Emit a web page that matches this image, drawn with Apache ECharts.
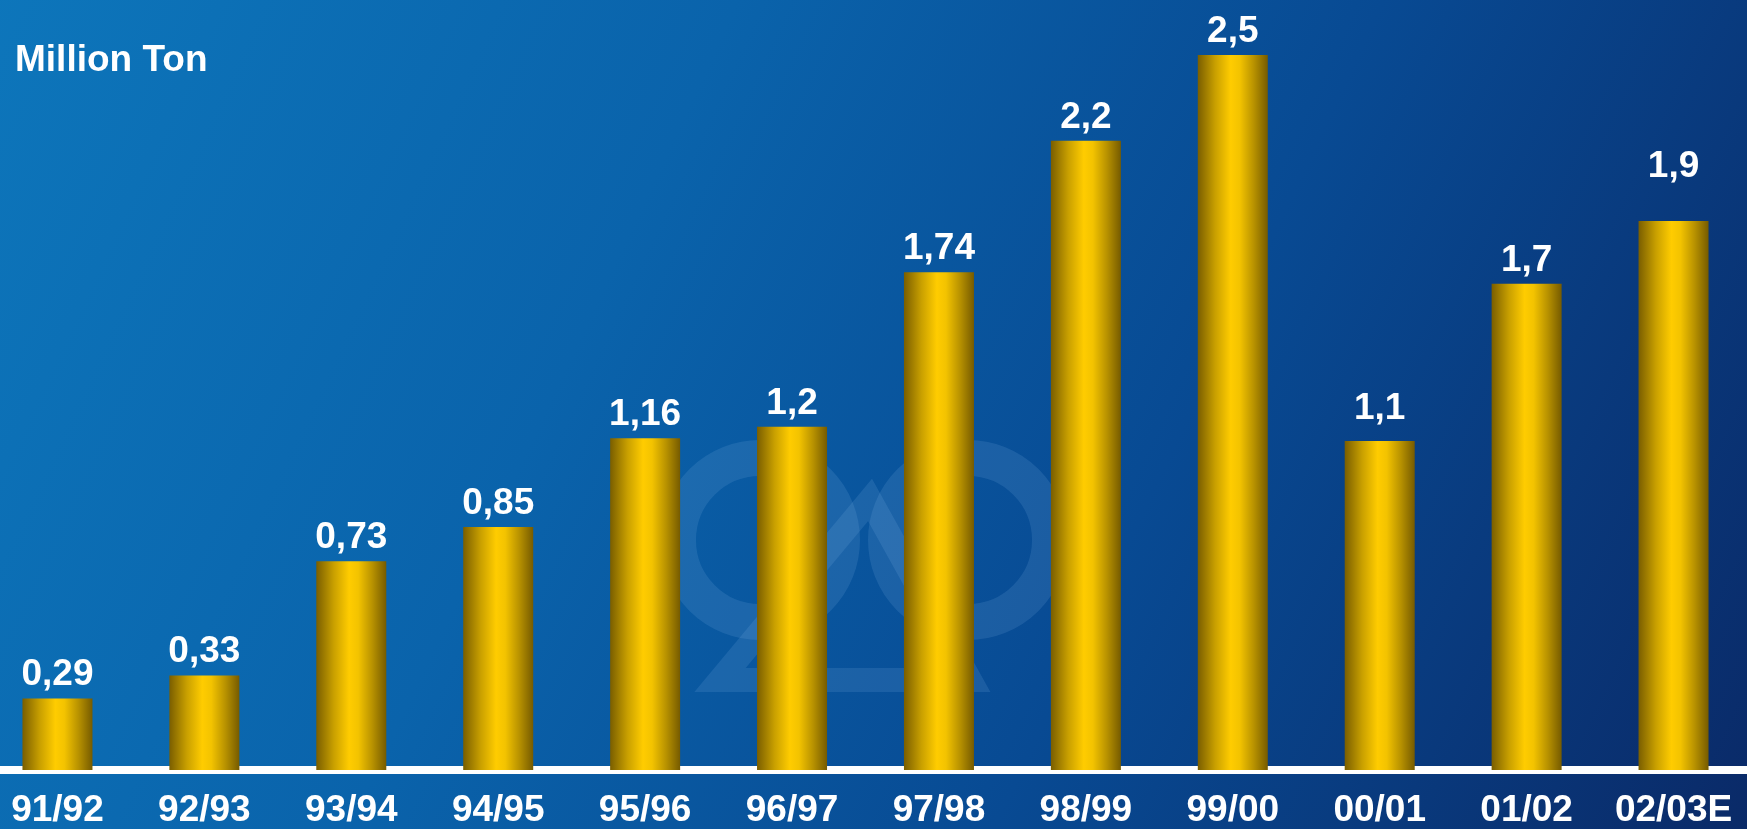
<!DOCTYPE html>
<html>
<head>
<meta charset="utf-8">
<script src="https://cdn.jsdelivr.net/npm/echarts@6/dist/echarts.min.js"></script>
<style>
html,body{margin:0;padding:0;width:1747px;height:829px;overflow:hidden;background:#0a4a92;}
#chart{position:absolute;left:-16px;top:0;width:1763px;height:829px;}
</style>
</head>
<body>
<div id="chart"></div>
<script>
// Data
var categories = ['91/92','92/93','93/94','94/95','95/96','96/97','97/98','98/99','99/00','00/01','01/02','02/03E'];
// bar heights as drawn in the picture (Million Ton)
var values = [0.25, 0.33, 0.73, 0.85, 1.16, 1.2, 1.74, 2.2, 2.5, 1.15, 1.7, 1.92];
// value labels as printed above the bars
var valueLabels = ['0,29','0,33','0,73','0,85','1,16','1,2','1,74','2,2','2,5','1,1','1,7','1,9'];
var unitLabel = 'Million Ton';

// extra label lift (style) for labels printed higher in the original
var labelLift = {9: 9, 11: 31};

var OFF = 16; // container offset to page
var chart = echarts.init(document.getElementById('chart'), null, {renderer: 'canvas'});
var barGradient = new echarts.graphic.LinearGradient(0, 0, 1, 0, [
  {offset: 0, color: '#7a5e00'},
  {offset: 0.25, color: '#c9a000'},
  {offset: 0.47, color: '#ffcc00'},
  {offset: 0.6, color: '#f3c300'},
  {offset: 0.8, color: '#b89200'},
  {offset: 1, color: '#765b00'}
]);

var seriesData = values.map(function (v, i) {
  return {value: v, label: {formatter: valueLabels[i], distance: 5 + (labelLift[i] || 0)}};
});

var wm = 'rgba(140,185,235,0.15)';
var option = {
  backgroundColor: new echarts.graphic.LinearGradient(0, 0, 1, 1, [
    {offset: 0, color: '#0d76bb'},
    {offset: 0.35, color: '#0a63ab'},
    {offset: 0.65, color: '#084a93'},
    {offset: 1, color: '#0a2a68'}
  ]),
  animation: false,
  graphic: [
    {type: 'circle', z: -1, shape: {cx: OFF + 760, cy: 540, r: 82}, style: {fill: 'none', stroke: wm, lineWidth: 36}},
    {type: 'circle', z: -1, shape: {cx: OFF + 968, cy: 540, r: 82}, style: {fill: 'none', stroke: wm, lineWidth: 36}},
    {type: 'polygon', z: -1, shape: {points: [[OFF + 870, 500], [OFF + 720, 680], [OFF + 970, 680]]}, style: {fill: 'none', stroke: wm, lineWidth: 24}}
  ],
  title: {
    text: unitLabel,
    left: OFF + 10,
    top: 37,
    textStyle: {color: '#ffffff', fontFamily: 'Liberation Sans', fontWeight: 'bold', fontSize: 37}
  },
  grid: {left: 0, right: 0, top: 55, bottom: 56, containLabel: false},
  xAxis: {
    type: 'category',
    data: categories,
    axisLine: {show: true, lineStyle: {color: '#ffffff', width: 8}},
    axisTick: {show: false},
    axisLabel: {
      color: '#ffffff', fontFamily: 'Liberation Sans', fontWeight: 'bold', fontSize: 37,
      margin: 22, interval: 0
    },
    splitLine: {show: false}
  },
  yAxis: {
    type: 'value', min: 0, max: 2.5, show: false,
    splitLine: {show: false}
  },
  series: [{
    type: 'bar',
    data: seriesData,
    barWidth: 70,
    itemStyle: {color: barGradient},
    label: {
      show: true, position: 'top', color: '#ffffff',
      fontFamily: 'Liberation Sans', fontWeight: 'bold', fontSize: 37
    }
  }]
};
chart.setOption(option);
</script>
</body>
</html>
